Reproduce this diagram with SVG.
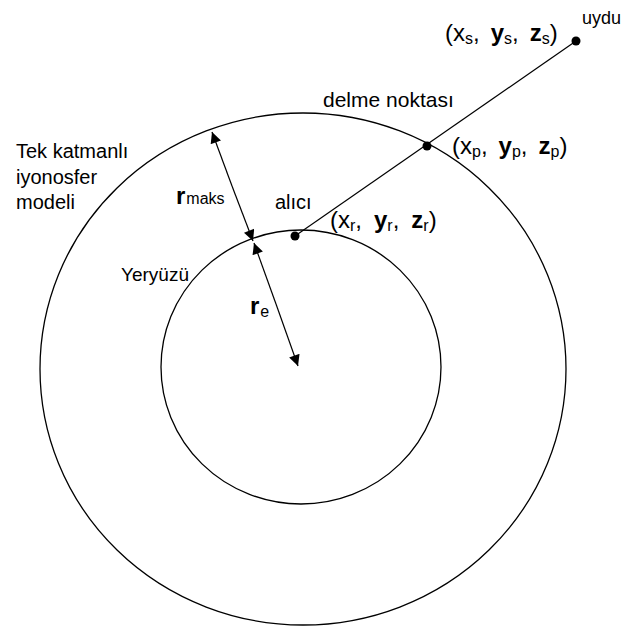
<svg xmlns="http://www.w3.org/2000/svg" width="621" height="638" viewBox="0 0 621 638">
<style>
.c{fill:none;stroke:#000;stroke-width:1.3}
.l{stroke:#000;stroke-width:1.2;fill:none}
text{font-family:"Liberation Sans",Arial,sans-serif;font-size:20px;fill:#000}
.k{font-size:24px}
.b{font-weight:bold}
.s{font-size:16px;font-weight:normal}
.u{font-size:18px}
</style>
<defs>
<marker id="ah" viewBox="0 0 10 10" refX="10" refY="5" markerWidth="12" markerHeight="11" markerUnits="userSpaceOnUse" orient="auto">
<path d="M0,0 L10,5 L0,10 z" fill="#000"/>
</marker>
</defs>
<g id="ionosphere"><ellipse class="c" cx="303" cy="369" rx="263" ry="256"/></g>
<g id="earth"><ellipse class="c" cx="301" cy="367" rx="140" ry="137"/></g>
<g id="connectors">
<line class="l" x1="576" y1="41" x2="295" y2="236"/>
<line class="l" x1="232" y1="186" x2="212" y2="132" marker-end="url(#ah)"/>
<line class="l" x1="232" y1="186" x2="253" y2="241" marker-end="url(#ah)"/>
<line class="l" x1="276" y1="304" x2="254" y2="243" marker-end="url(#ah)"/>
<line class="l" x1="276" y1="304" x2="298" y2="366" marker-end="url(#ah)"/>
</g>
<g id="satellite">
<circle cx="576" cy="41" r="4.5"/>
<text x="582" y="24" class="u">uydu</text>
<text x="445" y="41" class="k">(x<tspan class="s" dy="3">s</tspan><tspan dy="-3">,</tspan><tspan dx="11" class="b">y</tspan><tspan class="s" dy="3">s</tspan><tspan dy="-3">,</tspan><tspan dx="11" class="b">z</tspan><tspan class="s" dy="3">s</tspan><tspan dy="-3">)</tspan></text>
</g>
<g id="pierce">
<circle cx="427" cy="146" r="4.5"/>
<text x="323" y="107" style="font-size:21px">delme noktası</text>
<text x="452" y="154" class="k">(x<tspan class="s" dy="3">p</tspan><tspan dy="-3">,</tspan><tspan dx="11" class="b">y</tspan><tspan class="s" dy="3">p</tspan><tspan dy="-3">,</tspan><tspan dx="11" class="b">z</tspan><tspan class="s" dy="3">p</tspan><tspan dy="-3">)</tspan></text>
</g>
<g id="receiver">
<circle cx="295" cy="236" r="4.5"/>
<text x="275" y="209">alıcı</text>
<text x="330" y="228" class="k">(x<tspan class="s" dy="3">r</tspan><tspan dy="-3">,</tspan><tspan dx="12" class="b">y</tspan><tspan class="s" dy="3">r</tspan><tspan dy="-3">,</tspan><tspan dx="12" class="b">z</tspan><tspan class="s" dy="3">r</tspan><tspan dy="-3">)</tspan></text>
</g>
<g id="layer-label">
<text x="16" y="158">Tek katmanlı</text>
<text x="16" y="184">iyonosfer</text>
<text x="16" y="209">modeli</text>
</g>
<g id="earth-label"><text x="121" y="281" style="font-size:19px">Yeryüzü</text></g>
<g id="rmaks"><text x="176" y="204" class="k b">r<tspan class="s" dx="1">maks</tspan></text></g>
<g id="re"><text x="250" y="314" class="k b">r<tspan class="s" dx="1" dy="3">e</tspan></text></g>
</svg>
